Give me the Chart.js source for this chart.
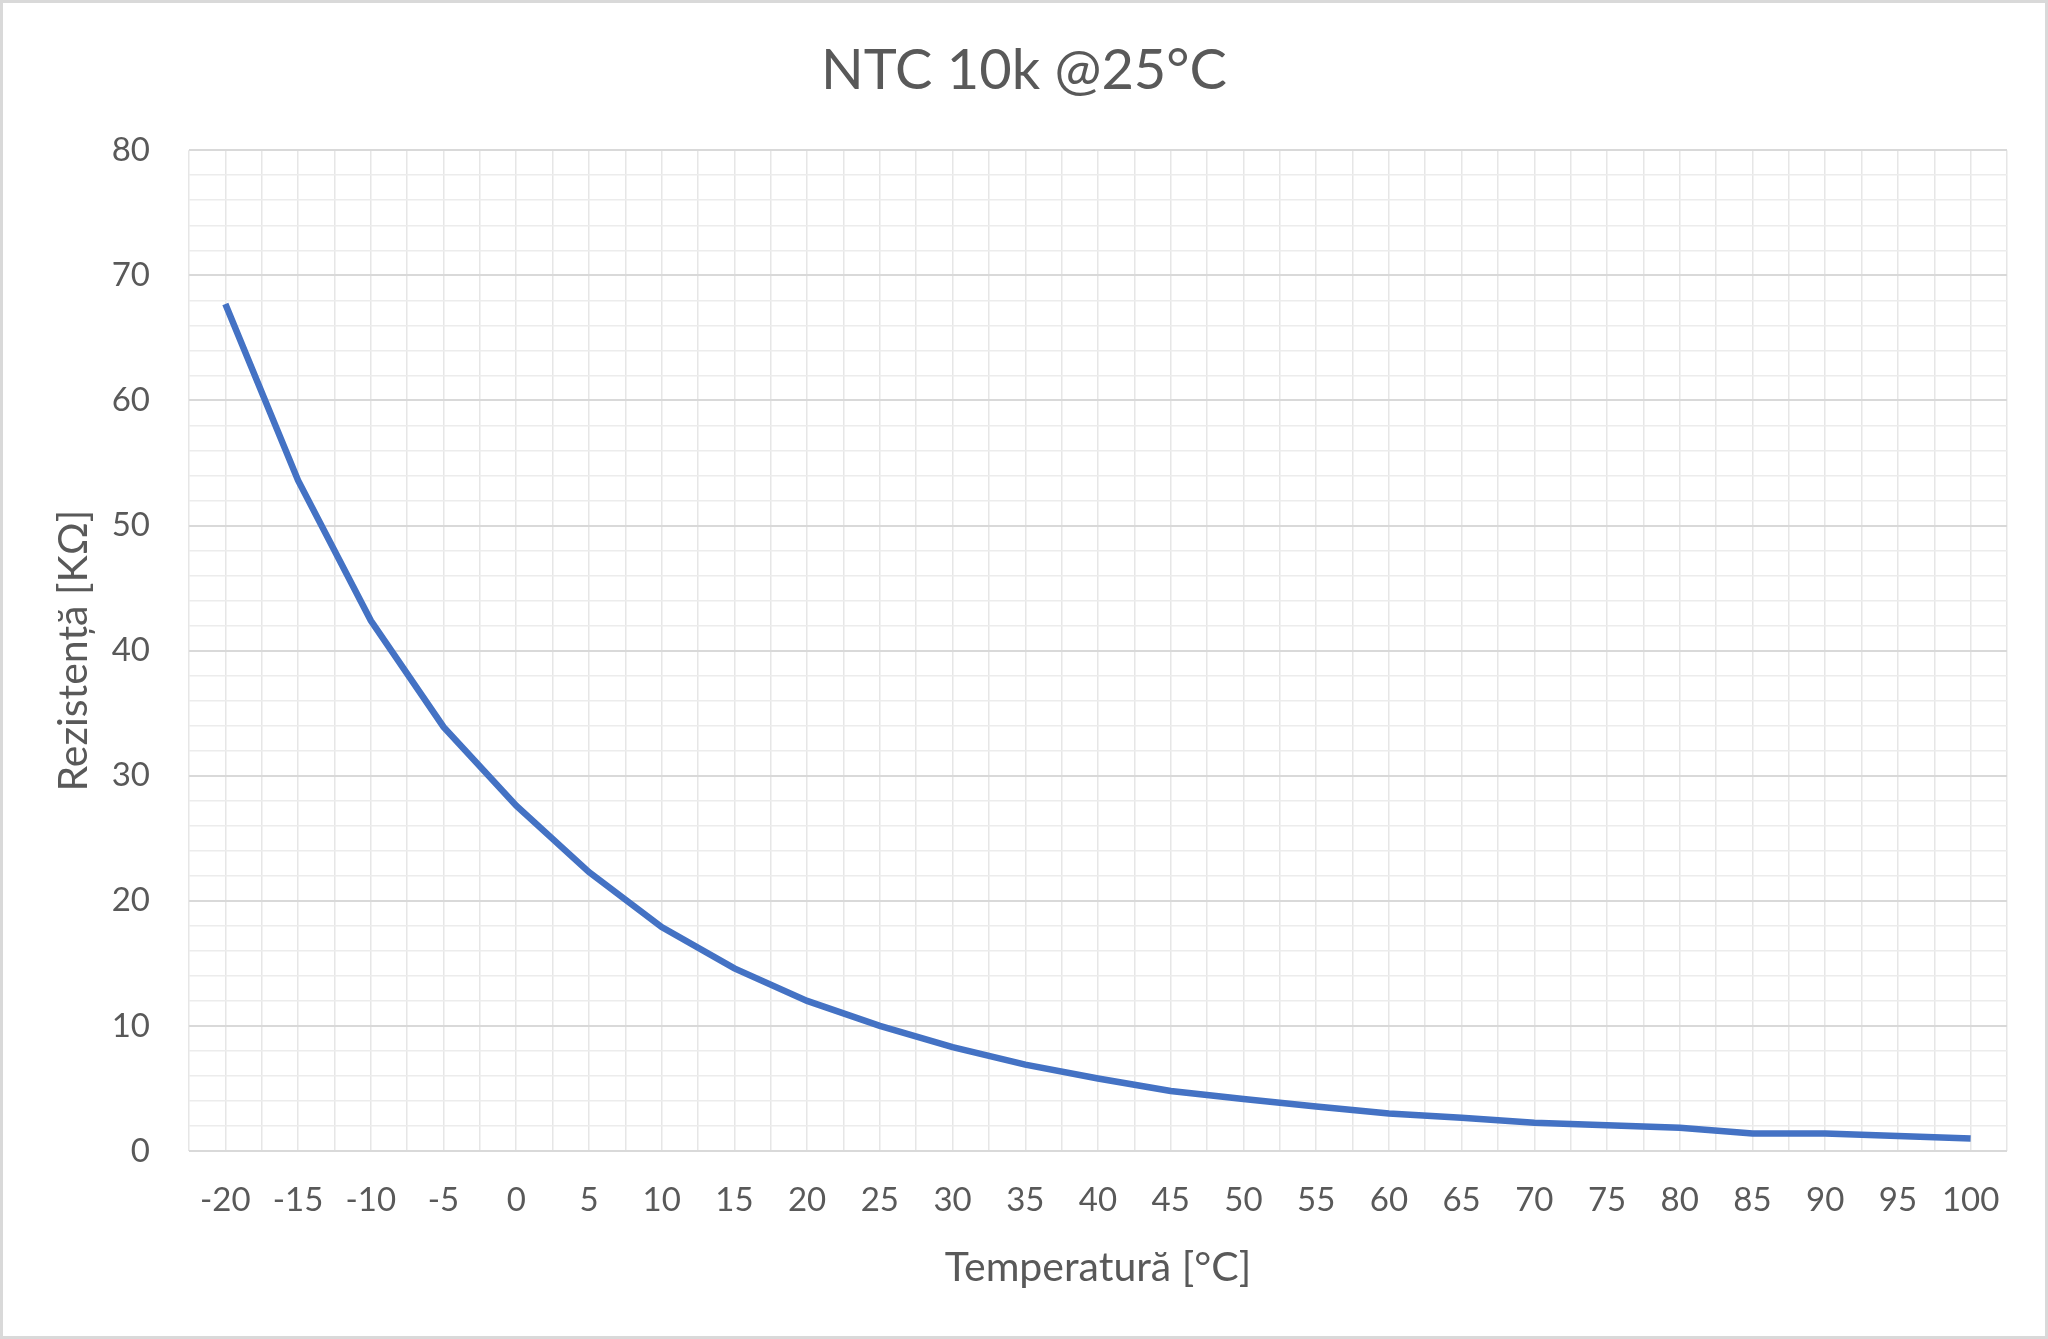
<!DOCTYPE html>
<html>
<head>
<meta charset="utf-8">
<script src="https://cdn.jsdelivr.net/npm/chart.js@4"></script>
<style>
  html, body { margin: 0; padding: 0; background: #fff; }
  #wrap { width: 2048px; height: 1339px; }
</style>
</head>
<body>
<div id="wrap"><canvas id="ntcChart" width="2048" height="1339"></canvas></div>
<script>
// NTC 10k thermistor table
const temperatures = [-20, -15, -10, -5, 0, 5, 10, 15, 20, 25, 30, 35, 40, 45, 50, 55, 60, 65, 70, 75, 80, 85, 90, 95, 100];
const resistanceK = [67.7, 53.6, 42.4, 33.9, 27.6, 22.3, 17.9, 14.6, 12.0, 10.0, 8.3, 6.9, 5.8, 4.8, 4.15, 3.55, 3.0, 2.65, 2.25, 2.05, 1.85, 1.4, 1.4, 1.2, 1.0];
const yTickLabels = [0, 10, 20, 30, 40, 50, 60, 70, 80];

const textColor = '#595959';
const fontFamily = 'Lato, "Open Sans", sans-serif';

const background = {
    id: 'background',
    beforeDraw(chart) {
        const ctx = chart.ctx;
        ctx.save();
        ctx.fillStyle = '#ffffff';
        ctx.fillRect(0, 0, chart.width, chart.height);
        ctx.strokeStyle = '#d9d9d9';
        ctx.lineWidth = 3;
        ctx.strokeRect(1.5, 1.5, chart.width - 3, chart.height - 3);
        ctx.restore();
    }
};

const ctx = document.getElementById('ntcChart').getContext('2d');
new Chart(ctx, {
    type: 'line',
    data: {
        datasets: [{
            label: 'R',
            data: temperatures.map((t, i) => ({ x: t, y: resistanceK[i] })),
            borderColor: '#4472C4',
            borderWidth: 6.5,
            pointRadius: 0,
            tension: 0,
            fill: false
        }]
    },
    options: {
        responsive: false,
        animation: false,
        devicePixelRatio: 1,
        // equal side padding keeps the title centred on the canvas
        layout: { padding: { left: 41, right: 41, top: 0, bottom: 0 } },
        plugins: {
            legend: { display: false },
            tooltip: { enabled: false },
            title: {
                display: true,
                text: 'NTC 10k @25°C',
                color: textColor,
                font: { family: fontFamily, size: 56, weight: 'normal' },
                padding: { top: 37, bottom: 46 }
            }
        },
        scales: {
            x: {
                type: 'linear',
                min: -22.5,
                max: 102.5,
                afterFit(scale) { scale.height = 188; },
                border: { display: false },
                grid: { color: '#e6e6e6', lineWidth: 1.5, drawTicks: false },
                ticks: {
                    stepSize: 2.5,
                    autoSkip: false,
                    maxRotation: 0,
                    padding: 30,
                    color: textColor,
                    font: { family: fontFamily, size: 33 },
                    callback: v => (temperatures.includes(v) ? String(v) : '')
                },
                title: {
                    display: true,
                    text: 'Temperatură [°C]',
                    color: textColor,
                    font: { family: fontFamily, size: 41 },
                    padding: { top: 0, bottom: 47 }
                }
            },
            y: {
                min: 0,
                max: 80,
                afterFit(scale) { scale.width = 148; },
                border: { display: false },
                grid: {
                    drawTicks: false,
                    color: c => (c.tick && c.tick.value % 10 === 0 ? '#d9d9d9' : '#ececec'),
                    lineWidth: c => (c.tick && c.tick.value % 10 === 0 ? 2 : 1.5)
                },
                ticks: {
                    stepSize: 2,
                    autoSkip: false,
                    padding: 39,
                    color: textColor,
                    font: { family: fontFamily, size: 33 },
                    callback: v => (yTickLabels.includes(v) ? String(v) : '')
                },
                title: {
                    display: true,
                    text: 'Rezistență [KΩ]',
                    color: textColor,
                    font: { family: fontFamily, size: 41 },
                    padding: { top: 8, bottom: 0 }
                }
            }
        }
    },
    plugins: [background]
});
</script>
</body>
</html>
